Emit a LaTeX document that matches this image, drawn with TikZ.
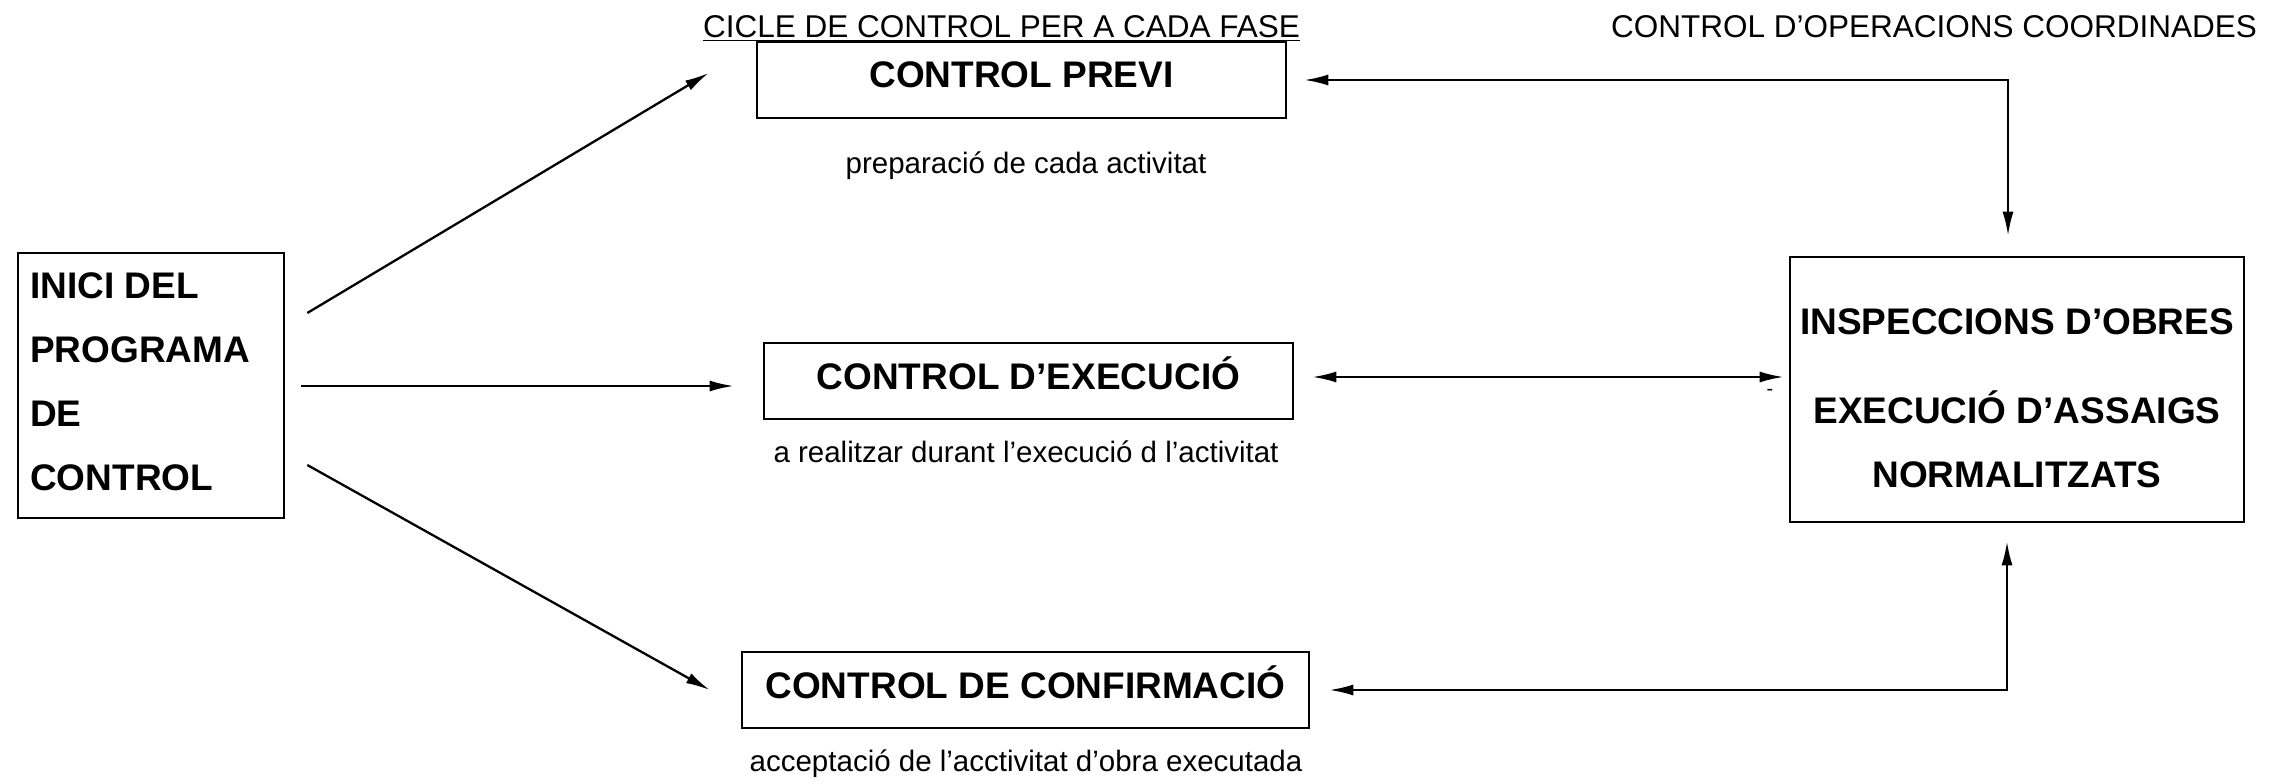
\documentclass[tikz,border=0pt]{standalone}
\usepackage{fontspec}
\setmainfont{Liberation Sans}
\usetikzlibrary{arrows.meta}
\newcommand\lblfont{\fontsize{37}{64}\selectfont\bfseries}
\newcommand\notefont{\fontsize{29.5}{35}\selectfont}
\newcommand\headfont{\fontsize{31.5}{38}\selectfont}
\tikzset{
  box/.style={draw, line width=2.6pt, inner sep=0pt},
  ctl/.style={box, minimum height=76pt, text height=26pt, text depth=10pt, font=\lblfont},
  lbl/.style={inner sep=0pt, font=\lblfont},
  note/.style={inner sep=0pt, anchor=base, font=\notefont},
  head/.style={inner sep=0pt, anchor=base, font=\headfont},
  arr/.style={line width=2.3pt, -{Latex[length=24pt,width=11pt]}},
  dbl/.style={line width=2.3pt, {Latex[length=24pt,width=11pt]}-{Latex[length=24pt,width=11pt]}},
}
\begin{document}
\begin{tikzpicture}[x=1pt,y=-1pt]
\useasboundingbox (0,0) rectangle (2291,784);
% boxes
\node[box, minimum width=266pt, minimum height=265pt] (inici) at (151,385.5) {};
\node[lbl, anchor=north west, align=left] (inicitxt) at (30,272.5) {INICI DEL\\PROGRAMA\\DE\\CONTROL};
\node[ctl, minimum width=529pt] (previ) at (1021.5,80) {CONTROL PREVI};
\node[ctl, minimum width=529pt] (exec) at (1028.5,381) {CONTROL D’EXECUCIÓ};
\node[ctl, minimum width=567pt] (conf) at (1025.5,690) {CONTROL DE CONFIRMACIÓ};
\node[box, minimum width=454pt, minimum height=265pt] (insp) at (2017,389.5) {};
\node[lbl, anchor=north, align=center] (insptxt) at (2017,308.5) {INSPECCIONS D’OBRES\\[25pt]EXECUCIÓ D’ASSAIGS\\NORMALITZATS};
% headings
\node[head] (cicle) at (1001.5,38) {CICLE DE CONTROL PER A CADA FASE};
\draw[line width=1.6pt] ([yshift=-2.5pt]cicle.base west) -- ([yshift=-2.5pt]cicle.base east);
\node[head] (coord) at (1934,38) {CONTROL D’OPERACIONS COORDINADES};
% notes
\node[note] (prep) at (1026,173) {preparació de cada activitat};
\node[note] (durant) at (1026,462) {a realitzar durant l’execució d l’activitat};
\node[note] (accept) at (1026,771) {acceptació de l’acctivitat d’obra executada};
\node[inner sep=0pt, anchor=base, font=\fontsize{20}{24}\selectfont] (dash) at (1770,395) {-};
% connectors
\draw[arr] ([xshift=22pt,yshift=72.5pt]inici.east) -- ([xshift=-47pt,yshift=7pt]previ.west);
\draw[arr] ([xshift=16pt,yshift=-0.5pt]inici.east) -- ([xshift=-29pt,yshift=-5pt]exec.west);
\draw[arr] ([xshift=22pt,yshift=-79.5pt]inici.east) -- ([xshift=-31pt]conf.west);
\draw[dbl] ([xshift=17pt]previ.east) -| ([xshift=-9pt,yshift=20pt]insp.north);
\draw[dbl] ([xshift=18pt,yshift=4pt]exec.east) -- ([xshift=-5pt,yshift=12.5pt]insp.west);
\draw[dbl] ([xshift=19pt]conf.east) -| ([xshift=-10pt,yshift=-18pt]insp.south);
\end{tikzpicture}
\end{document}
